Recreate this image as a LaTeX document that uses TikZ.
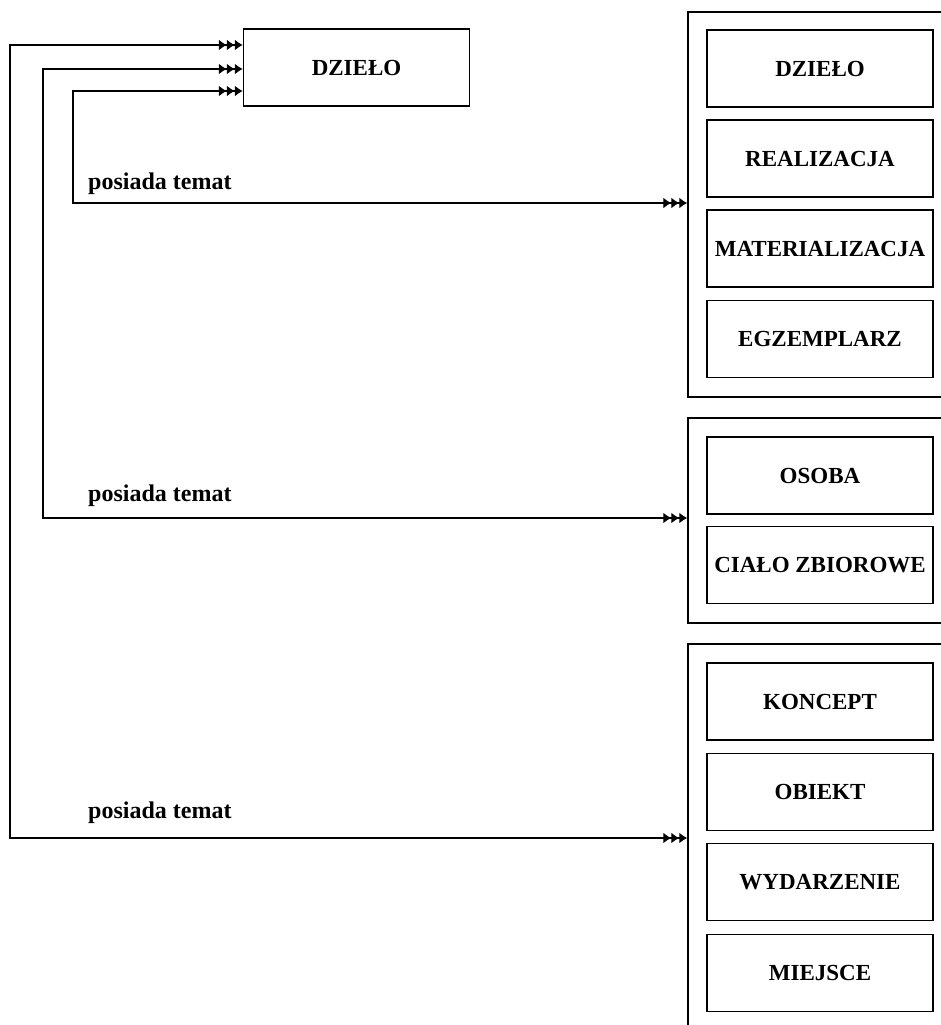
\documentclass[tikz,border=0pt]{standalone}
\usepackage{fontspec}
\setmainfont{Liberation Serif}
\usetikzlibrary{arrows.meta}
\tikzset{
  box/.style={draw, line width=1.5pt, rectangle, minimum width=226pt, minimum height=77pt, inner sep=0pt,
    font=\fontsize{23}{25}\selectfont\bfseries},
  grp/.style={draw, line width=1.5pt, rectangle, inner sep=0pt},
  lbl/.style={anchor=west, inner sep=0pt, font=\fontsize{24}{26}\selectfont\bfseries},
  dtip/.tip={Latex[length=8pt,width=11pt]Latex[length=8pt,width=11pt]Latex[length=8pt,width=11pt]},
  conn/.style={line width=1.4pt, {dtip}-{dtip}},
}
\begin{document}
\begin{tikzpicture}[x=1pt,y=-1pt]
\useasboundingbox (0,0) rectangle (940,1025);
% top box
\node[box] (dz) at (356.5,67.5) {DZIEŁO};
% groups
\node[grp, minimum width=257pt, minimum height=385pt] (g1) at (816.5,204.5) {};
\node[grp, minimum width=257pt, minimum height=205pt] (g2) at (816.5,520.5) {};
\node[grp, minimum width=257pt, minimum height=386pt] (g3) at (816.5,837) {};
% group 1
\node[box] (b11) at (820,68.5) {DZIEŁO};
\node[box] (b12) at (820,158.5) {REALIZACJA};
\node[box] (b13) at (820,248.5) {MATERIALIZACJA};
\node[box] (b14) at (820,339) {EGZEMPLARZ};
% group 2
\node[box] (b21) at (820,475.5) {OSOBA};
\node[box] (b22) at (820,565) {CIAŁO ZBIOROWE};
% group 3
\node[box] (b31) at (820,701.5) {KONCEPT};
\node[box] (b32) at (820,792) {OBIEKT};
\node[box] (b33) at (820,882) {WYDARZENIE};
\node[box] (b34) at (820,973) {MIEJSCE};
% connector ends
\coordinate (d1) at (dz.west |- 0,45);
\coordinate (d2) at (dz.west |- 0,69);
\coordinate (d3) at (dz.west |- 0,91);
\coordinate (e1) at (g1.west |- 0,203);
\coordinate (e2) at (g2.west |- 0,518);
\coordinate (e3) at (g3.west |- 0,838);
\draw[conn] (d3) -- (73,91) -- (73,203) -- (e1);
\draw[conn] (d2) -- (43,69) -- (43,518) -- (e2);
\draw[conn] (d1) -- (10,45) -- (10,838) -- (e3);
% labels
\node[lbl] (l1) at (88,184) {posiada temat};
\node[lbl] (l2) at (88,496) {posiada temat};
\node[lbl] (l3) at (88,813) {posiada temat};
\end{tikzpicture}
\end{document}
